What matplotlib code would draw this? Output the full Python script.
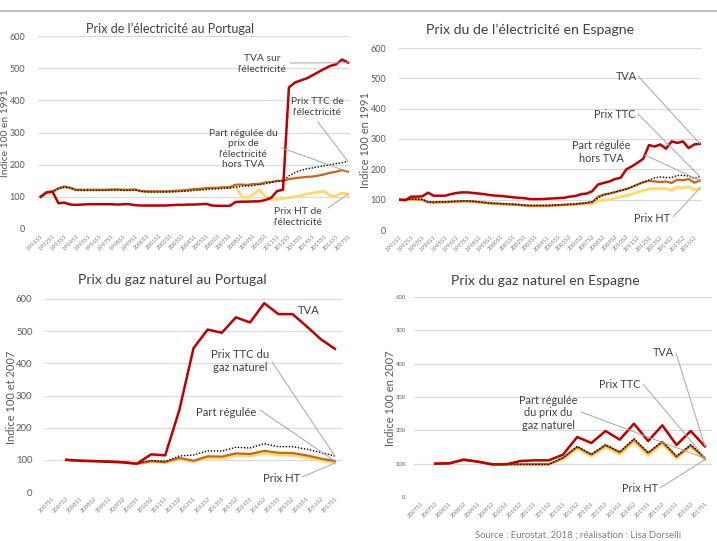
import numpy as np
import matplotlib
matplotlib.use('Agg')
import matplotlib.pyplot as plt
from matplotlib.lines import Line2D

W, H = 717, 541
plt.rcParams['font.family'] = ['Lato', 'DejaVu Sans']

nan = np.nan

# ---------------- Data ----------------
# Panel 1 : électricité Portugal (1991S1 .. 2017S1, semestriel)
pt_elec_labels = [f"{y}S1" for y in range(1991, 2018)]
pt_elec_tva = [100, 114, 116, 80, 82, 76, 75, 76, 77, 77, 77, 77, 77, 76, 77, 77, 74, 73, 73, 73,
               73, 73, 74, 75, 75, 76, 76, 77, 78, 73, 72, 72, 72, 84, 85, 85, 86, 86, 90, 97,
               118, 122, 440, 455, 462, 468, 478, 488, 498, 507, 512, 527, 517]
pt_elec_ttc = [100, 114, 116, 125, 130, 128, 120, 120, 120, 120, 120, 120, 121, 121, 120, 120, 121, 117, 115, 115,
               115, 115, 115, 116, 117, 118, 120, 121, 123, 124, 125, 126, 127, 130, 133, 134, 135, 138, 140, 145,
               148, 150, 165, 175, 182, 187, 190, 193, 197, 200, 203, 206, 210]
pt_elec_reg = [100, 114, 116, 127, 132, 128, 122, 122, 122, 122, 122, 122, 123, 123, 122, 122, 123, 118, 117, 117,
               117, 117, 118, 119, 120, 122, 124, 125, 127, 128, 128, 130, 130, 138, 138, 137, 140, 140, 145, 146,
               150, 150, 155, 158, 160, 162, 163, 166, 170, 175, 178, 183, 178]
pt_elec_ht = [100, 114, 116, 126, 131, 127, 121, 121, 121, 121, 121, 121, 122, 122, 121, 121, 122, 117, 116, 116,
              116, 116, 117, 118, 119, 121, 123, 124, 126, 127, 127, 129, 130, 135, 100, 97, 108, 122, 100, 93,
              92, 95, 97, 100, 104, 108, 112, 115, 117, 103, 103, 112, 108]

# Panel 2 : électricité Espagne
es_elec_labels = [f"{y}S1" for y in range(1991, 2006)] + [f"{y}S2" for y in range(2005, 2017)]
es_elec_tva = [100, 98, 110, 110, 111, 123, 113, 113, 113, 118, 122, 124, 124, 122, 120, 118, 115, 113, 112, 110,
               108, 106, 105, 102, 102, 102, 103, 104, 105, 106, 110, 112, 118, 120, 128, 150, 155, 160, 168, 172,
               200, 210, 222, 235, 280, 275, 282, 268, 292, 287, 292, 270, 282, 284]
es_elec_ttc = [100, 100, 102, 102, 101, 93, 92, 93, 93, 94, 95, 96, 96, 95, 93, 91, 89, 88, 87, 86,
               85, 84, 82, 81, 81, 81, 81, 82, 83, 84, 85, 86, 88, 90, 93, 105, 115, 120, 125, 130,
               135, 142, 150, 158, 165, 172, 175, 173, 173, 180, 180, 178, 170, 176]
es_elec_reg = [100, 100, 102, 101, 100, 92, 91, 92, 92, 93, 94, 95, 95, 94, 92, 90, 88, 87, 86, 85,
               84, 83, 81, 80, 80, 80, 80, 81, 82, 83, 84, 85, 87, 89, 92, 110, 117, 120, 125, 130,
               135, 142, 150, 157, 162, 160, 158, 160, 155, 166, 164, 168, 156, 163]
es_elec_ht = [100, 100, 101, 100, 99, 91, 90, 91, 91, 92, 93, 94, 94, 93, 91, 89, 87, 86, 85, 84,
              83, 82, 80, 79, 79, 79, 79, 80, 81, 82, 83, 84, 86, 88, 85, 96, 98, 100, 105, 110,
              113, 118, 125, 130, 135, 137, 136, 137, 130, 142, 138, 143, 132, 138]

# Panels 3-4 : gaz naturel (2007S1 .. 2017S1)
gas_labels = [f"{y}S{s}" for y in range(2007, 2018) for s in (1, 2)][:21]
pt_gas_tva = [nan, 100, 97, 96, 94, 92, 88, 117, 114, 255, 447, 505, 495, 543, 527, 587, 553, 553, 515, 475, 445]
pt_gas_ttc = [nan, 100, 98, 97, 96, 94, 89, 98, 95, 112, 115, 128, 127, 139, 137, 150, 141, 141, 133, 123, 112]
pt_gas_reg = [nan, 100, 97, 96, 95, 93, 88, 96, 93, 106, 97, 111, 110, 120, 118, 128, 122, 121, 114, 104, 96]
pt_gas_ht = [nan, 100, 97, 96, 95, 92, 88, 94, 91, 102, 94, 106, 105, 113, 112, 120, 115, 114, 108, 98, 90]

es_gas_tva = [nan, 100, 101, 112, 106, 98, 98, 108, 110, 110, 127, 180, 162, 198, 172, 220, 168, 215, 156, 198, 152]
es_gas_ttc = [nan, 100, 101, 112, 106, 98, 98, 98, 98, 98, 118, 152, 128, 157, 135, 175, 133, 167, 122, 157, 118]
es_gas_reg = [nan, 100, 101, 112, 106, 98, 98, 98, 98, 98, 117, 150, 127, 155, 134, 172, 132, 165, 121, 155, 116]
es_gas_ht = [nan, 100, 101, 112, 106, 98, 98, 98, 98, 98, 113, 145, 122, 150, 128, 165, 125, 160, 115, 150, 112]

RED = '#C00000'
ORANGE = '#C9651B'
YELLOW = '#FFD966'
GRID = '#D9D9D9'
TXT = '#404040'
TICK = '#595959'
LEAD = '#A6A6A6'

fig = plt.figure(figsize=(W / 100, H / 100), dpi=100)


def add_ax(x0, x1, ytop, ybot):
    return fig.add_axes([x0 / W, 1 - ybot / H, (x1 - x0) / W, (ybot - ytop) / H])


def style(ax, xlim, ticks, ticklabels, xfs, yfs):
    ax.set_xlim(*xlim)
    ax.set_ylim(0, 600)
    ax.set_yticks(range(0, 601, 100))
    ax.grid(axis='y', color=GRID, lw=0.8)
    ax.set_axisbelow(True)
    for s in ax.spines.values():
        s.set_visible(False)
    ax.set_xticks(ticks)
    ax.set_xticklabels(ticklabels, rotation=45, ha='right', rotation_mode='anchor',
                       fontsize=xfs, color='#7F7F7F')
    ax.tick_params(axis='both', length=0)
    ax.tick_params(axis='y', labelsize=yfs, labelcolor=TICK, pad=9)
    ax.tick_params(axis='x', pad=3)


def draw(ax, x, tva, ttc, reg, ht):
    ax.plot(x, ht, color=YELLOW, lw=2.0, solid_joinstyle='round')
    ax.plot(x, reg, color=ORANGE, lw=1.6, solid_joinstyle='round')
    ax.plot(x, ttc, color='black', lw=1.0, ls=(0, (1, 1.2)))
    ax.plot(x, tva, color=RED, lw=1.8, solid_joinstyle='round')


def label(ax, text, tx, ty, size, lead=None, end=None):
    fig.text(tx / W, 1 - ty / H, text, ha='center', va='center', fontsize=size,
             color=TXT, linespacing=1.2)
    if lead is not None:
        ax.annotate('', xy=end, xycoords='data', xytext=(lead[0], H - lead[1]),
                    textcoords='figure pixels',
                    arrowprops=dict(arrowstyle='-', color=LEAD, lw=0.7, shrinkA=0, shrinkB=0))


# ---- Panel 1
ax1 = add_ax(38, 350, 36, 229)
x1 = np.arange(len(pt_elec_tva))
draw(ax1, x1, pt_elec_tva, pt_elec_ttc, pt_elec_reg, pt_elec_ht)
style(ax1, (-0.46, 52.34), np.arange(0, 53, 2), pt_elec_labels, 4.3, 6.5)
fig.text(170 / W, 1 - 29 / H, "Prix de l’électricité au Portugal", ha='center', va='center',
         fontsize=9.0, color=TXT)
fig.text(6 / W, 1 - 133 / H, "Indice 100 en 1991", rotation=90, ha='center', va='center',
         fontsize=7.4, color=TICK)
n1 = len(x1) - 1
label(ax1, "TVA sur\nl'électricité", 262, 64, 7.4, (290, 63), (n1, pt_elec_tva[-1]))
label(ax1, "Prix TTC de\nl'électricité", 317, 107, 7.4, (318, 122), (n1, pt_elec_ttc[-1]))
label(ax1, "Part régulée du\nprix de\nl'électricité\nhors TVA", 243, 149, 7.4, (282, 148),
      (n1, pt_elec_reg[-1]))
label(ax1, "Prix HT de\nl'électricité", 298, 217, 7.4, (328, 208), (n1, pt_elec_ht[-1]))

# ---- Panel 2
ax2 = add_ax(399, 701, 48, 230)
x2 = np.arange(len(es_elec_tva))
draw(ax2, x2, es_elec_tva, es_elec_ttc, es_elec_reg, es_elec_ht)
style(ax2, (-0.12, 53.18), np.arange(0, 53, 2), es_elec_labels, 4.3, 6.5)
fig.text(530 / W, 1 - 30 / H, "Prix du de l’électricité en Espagne", ha='center', va='center',
         fontsize=10.2, color=TXT)
fig.text(365 / W, 1 - 140 / H, "Indice 100 en 1991", rotation=90, ha='center', va='center',
         fontsize=8.0, color=TICK)
n2 = len(x2) - 1
label(ax2, "TVA", 626, 77, 7.8, (638, 76), (n2, es_elec_tva[-1]))
label(ax2, "Prix TTC", 615, 115, 7.8, (638, 114), (n2, es_elec_ttc[-1]))
label(ax2, "Part régulée\nhors TVA", 601, 152, 7.8, (645, 155), (n2, es_elec_reg[-1]))
label(ax2, "Prix HT", 652, 218, 7.8, (673, 217), (n2, es_elec_ht[-1]))

# ---- Panel 3
ax3 = add_ax(45, 342, 299, 492)
x3 = np.arange(len(pt_gas_tva))
draw(ax3, x3, pt_gas_tva, pt_gas_ttc, pt_gas_reg, pt_gas_ht)
style(ax3, (-0.5, 20.5), x3, gas_labels, 4.2, 6.8)
fig.text(172 / W, 1 - 280 / H, "Prix du gaz naturel au Portugal", ha='center', va='center',
         fontsize=10.1, color=TXT)
fig.text(12 / W, 1 - 397 / H, "Indice 100 et 2007", rotation=90, ha='center', va='center',
         fontsize=8.0, color=TICK)
n3 = len(x3) - 1
label(ax3, "TVA", 309, 311, 8.1)
label(ax3, "Prix TTC du\ngaz naturel", 240, 361, 8.1, (272, 362), (n3, pt_gas_ttc[-1]))
label(ax3, "Part régulée", 226, 412, 8.1, (260, 410), (n3, pt_gas_reg[-1]))
label(ax3, "Prix HT", 282, 478, 8.1, (302, 477), (n3, pt_gas_ht[-1]))

# ---- Panel 4
ax4 = add_ax(414, 712, 297, 497)
x4 = np.arange(len(es_gas_tva))
draw(ax4, x4, es_gas_tva, es_gas_ttc, es_gas_reg, es_gas_ht)
style(ax4, (-0.5, 20.5), x4, gas_labels, 4.2, 4.2)
ax4.tick_params(axis='y', pad=6)
fig.text(545 / W, 1 - 281 / H, "Prix du gaz naturel en Espagne", ha='center', va='center',
         fontsize=10.1, color=TXT)
fig.text(390 / W, 1 - 398 / H, "Indice 100 en 2007", rotation=90, ha='center', va='center',
         fontsize=8.0, color=TICK)
n4 = len(x4) - 1
label(ax4, "TVA", 663, 353, 7.8, (676, 353), (n4, es_gas_tva[-1]))
label(ax4, "Prix TTC", 620, 384, 7.8, (643, 384), (n4, es_gas_ttc[-1]))
label(ax4, "Part régulée\ndu prix du\ngaz naturel", 548, 413, 7.8, (581, 412), (n4, es_gas_reg[-1]))
label(ax4, "Prix HT", 640, 488, 7.8, (660, 488), (n4, es_gas_ht[-1]))

# top rule and footer
fig.add_artist(Line2D([0, 1], [1 - 10.5 / H] * 2, color='#BFBFBF', lw=1.5))
fig.text(475 / W, 1 - 531 / H, "Source : Eurostat, 2018 ; réalisation : Lisa Dorselli",
         ha='left', va='top', fontsize=6.8, color='#7F7F7F')

fig.savefig('out.png', dpi=100)
